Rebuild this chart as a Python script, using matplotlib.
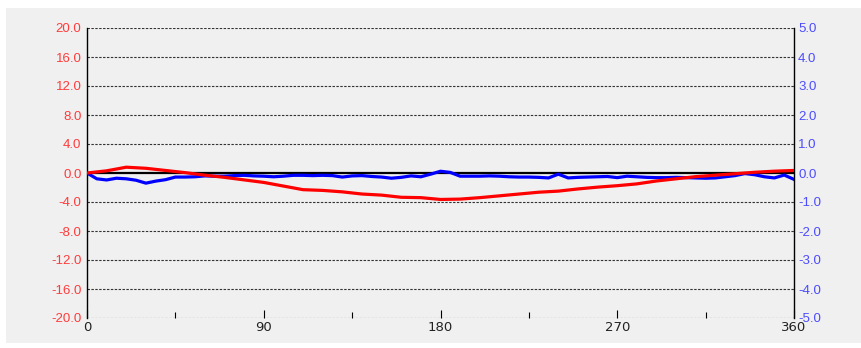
import matplotlib
matplotlib.use("Agg")
import matplotlib.pyplot as plt
from matplotlib import font_manager
from matplotlib.patches import Rectangle

# ---- data ----
red_deg = list(range(0, 361, 10))
red_vals = [0.0, 0.3, 0.8, 0.65, 0.35, 0.05, -0.3, -0.6, -0.95, -1.3, -1.8, -2.3, -2.4,
            -2.6, -2.9, -3.05, -3.35, -3.4, -3.65, -3.6, -3.4, -3.15, -2.9, -2.65,
            -2.5, -2.2, -1.95, -1.75, -1.5, -1.1, -0.8, -0.5, -0.3, -0.1, 0.1, 0.25, 0.35]

blue_deg = list(range(0, 361, 5))
blue_vals = [0.0, -0.2, -0.24, -0.18, -0.2, -0.25, -0.35, -0.28, -0.23, -0.14, -0.14,
             -0.13, -0.1, -0.11, -0.11, -0.09, -0.08, -0.1, -0.11, -0.13, -0.11, -0.08,
             -0.08, -0.09, -0.08, -0.09, -0.14, -0.1, -0.09, -0.12, -0.14, -0.18, -0.15,
             -0.1, -0.13, -0.04, 0.06, 0.02, -0.11, -0.11, -0.11, -0.1, -0.11, -0.13,
             -0.14, -0.14, -0.15, -0.17, -0.04, -0.17, -0.15, -0.14, -0.13, -0.12, -0.16,
             -0.11, -0.13, -0.15, -0.16, -0.16, -0.15, -0.16, -0.17, -0.18, -0.17, -0.13,
             -0.09, -0.02, -0.06, -0.13, -0.17, -0.07, -0.22]

x_ticks = [0, 90, 180, 270, 360]
x_minor = [45, 135, 225, 315]
left_ticks = [20.0, 16.0, 12.0, 8.0, 4.0, 0.0, -4.0, -8.0, -12.0, -16.0, -20.0]
right_ticks = [5.0, 4.0, 3.0, 2.0, 1.0, 0.0, -1.0, -2.0, -3.0, -4.0, -5.0]

names = {f.name for f in font_manager.fontManager.ttflist}
narrow = "Liberation Sans Narrow" if "Liberation Sans Narrow" in names else "DejaVu Sans"
plt.rcParams['font.family'] = ['Liberation Sans', 'DejaVu Sans']

BG = "#F0F0F0"
fig = plt.figure(figsize=(8.61, 3.48), dpi=100, facecolor="white")
fig.patches.append(Rectangle((6 / 861, 5 / 348), 1 - 6 / 861, (343 - 8) / 348,
                             transform=fig.transFigure, facecolor=BG, edgecolor="none", zorder=-10))

ax = fig.add_axes([87 / 861, 30 / 348, 707 / 861, 290 / 348])
ax.patch.set_visible(False)
ax.set_xlim(0, 360)
ax.set_ylim(-20, 20)
ax.set_yticks(left_ticks)
ax.set_yticklabels([f"{v:.1f}" for v in left_ticks], color="#FF3B3B", fontsize=9.5)
ax.tick_params(axis='y', length=0, pad=4)
ax.set_xticks(x_ticks)
ax.set_xticks(x_minor, minor=True)
ax.set_xticklabels([str(v) for v in x_ticks], fontsize=9.5, family=narrow, color="#222222")
ax.tick_params(axis='x', which='major', direction='in', length=6, width=0.8, pad=2)
ax.tick_params(axis='x', which='minor', direction='in', length=4, width=0.8)
for s in ['top', 'bottom', 'right']:
    ax.spines[s].set_visible(False)
ax.spines['left'].set_color('black')
ax.spines['left'].set_linewidth(1.0)

ax.plot(red_deg, red_vals, color='#FF0000', linewidth=2.3, zorder=4)

ax2 = ax.twinx()
ax2.patch.set_visible(False)
ax2.set_ylim(-5, 5)
ax2.set_yticks(right_ticks)
ax2.set_yticklabels([f"{v:.1f}" for v in right_ticks], color="#4B4BFF", fontsize=9.5)
ax2.tick_params(axis='y', length=0, pad=3)
for s in ['top', 'bottom', 'left']:
    ax2.spines[s].set_visible(False)
ax2.spines['right'].set_color('black')
ax2.spines['right'].set_linewidth(1.0)

for v in right_ticks:
    if v != 0:
        ax2.axhline(v, color='#333333', linestyle=(0, (2.2, 1.3)), linewidth=0.8, zorder=1)
ax2.axhline(0, color='black', linewidth=1.6, zorder=2)
ax2.plot(blue_deg, blue_vals, color='#0000FF', linewidth=2.3, zorder=3)

# red drawn above blue
ax.set_zorder(2)
ax2.set_zorder(1)

fig.savefig("out.png", dpi=100, facecolor="white")
